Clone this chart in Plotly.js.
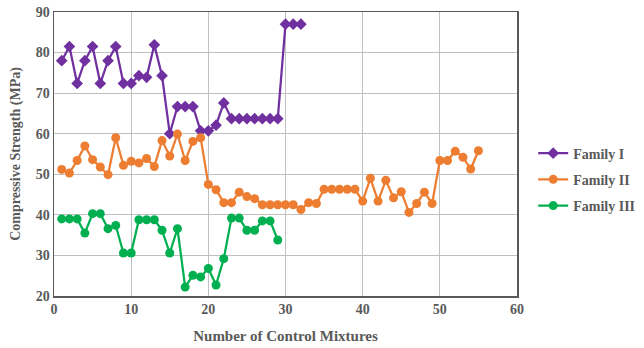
<!DOCTYPE html>
<html>
<head>
<meta charset="utf-8">
<script src="https://cdn.plot.ly/plotly-3.0.1.min.js"></script>
<style>html,body{margin:0;padding:0;background:#fff;}#chart{width:644px;height:348px;}</style>
</head>
<body>
<div id="chart"></div>
<script>
const familyIValues = [78.0, 81.5, 72.4, 78.0, 81.5, 72.4, 78.0, 81.5, 72.4, 72.4, 74.3, 73.9, 81.9, 74.3, 60.0, 66.7, 66.7, 66.7, 60.7, 60.7, 62.1, 67.6, 63.7, 63.7, 63.7, 63.7, 63.7, 63.7, 63.7, 87.0, 87.0, 87.0];
const familyIIValues = [51.2, 50.3, 53.4, 57.0, 53.6, 51.8, 49.9, 59.0, 52.2, 53.2, 52.8, 53.9, 51.9, 58.3, 54.5, 59.9, 53.4, 58.1, 59.0, 47.5, 46.2, 43.0, 43.0, 45.6, 44.5, 44.0, 42.5, 42.5, 42.5, 42.5, 42.5, 41.3, 43.0, 42.8, 46.3, 46.3, 46.3, 46.3, 46.3, 43.4, 49.0, 43.4, 48.5, 44.2, 45.7, 40.6, 42.8, 45.6, 42.8, 53.4, 53.4, 55.7, 54.2, 51.3, 55.8];
const familyIIIValues = [39.0, 39.0, 39.0, 35.5, 40.3, 40.3, 36.6, 37.4, 30.6, 30.6, 38.8, 38.8, 38.8, 36.2, 30.6, 36.6, 22.2, 25.1, 24.7, 26.8, 22.7, 29.2, 39.2, 39.2, 36.2, 36.2, 38.5, 38.5, 33.8];
const seriesNames = ["Family I", "Family II", "Family III"];
const xTickValues = [0, 10, 20, 30, 40, 50, 60];
const yTickValues = [20, 30, 40, 50, 60, 70, 80, 90];

const idx = arr => arr.map((_, i) => i + 1);
const serif = "Liberation Serif, Times New Roman, serif";

const traces = [
  {x: idx(familyIValues), y: familyIValues, name: seriesNames[0], legendgroup: "g1", mode: "lines+markers",
   line: {color: "#7030A0", width: 2.25}, marker: {symbol: "diamond", size: 9, color: "#7030A0"}},
  {x: idx(familyIIValues), y: familyIIValues, name: seriesNames[1], legendgroup: "g2", mode: "lines+markers",
   line: {color: "#ED7D31", width: 2.25}, marker: {symbol: "circle", size: 9, color: "#ED7D31"}},
  {x: idx(familyIIIValues), y: familyIIIValues, name: seriesNames[2], legendgroup: "g3", mode: "lines+markers",
   line: {color: "#00B050", width: 2.25}, marker: {symbol: "circle", size: 9, color: "#00B050"}}
];

const layout = {
  width: 644, height: 348,
  margin: {l: 54, r: 127, t: 12, b: 52, autoexpand: false},
  paper_bgcolor: "#fff", plot_bgcolor: "#fff",
  font: {family: serif, color: "#595959", size: 14},
  showlegend: true,
  legend: {x: 1.035, y: 0.41, xanchor: "left", yanchor: "middle",
    font: {family: serif, size: 14, color: "#595959", weight: "bold"},
    tracegroupgap: 5, itemwidth: 30, traceorder: "grouped"},
  xaxis: {range: [0, 60], tickvals: xTickValues, ticks: "", showgrid: true, gridcolor: "#c0c0c0", gridwidth: 1,
    zeroline: false, showline: true, mirror: true, linecolor: "#595959", linewidth: 1.5,
    tickfont: {family: serif, size: 14, color: "#595959", weight: "bold"},
    title: {text: "Number of Control Mixtures", font: {family: serif, size: 15, color: "#595959", weight: "bold"}, standoff: 14}},
  yaxis: {range: [20, 90], tickvals: yTickValues, ticks: "", showgrid: true, gridcolor: "#c0c0c0", gridwidth: 1,
    zeroline: false, showline: true, mirror: true, linecolor: "#595959", linewidth: 1.5,
    tickfont: {family: serif, size: 14, color: "#595959", weight: "bold"},
    title: {text: "Compressive Strength (MPa)", font: {family: serif, size: 14, color: "#595959", weight: "bold"}, standoff: 12}}
};

Plotly.newPlot("chart", traces, layout, {displayModeBar: false, staticPlot: true});
</script>
</body>
</html>
